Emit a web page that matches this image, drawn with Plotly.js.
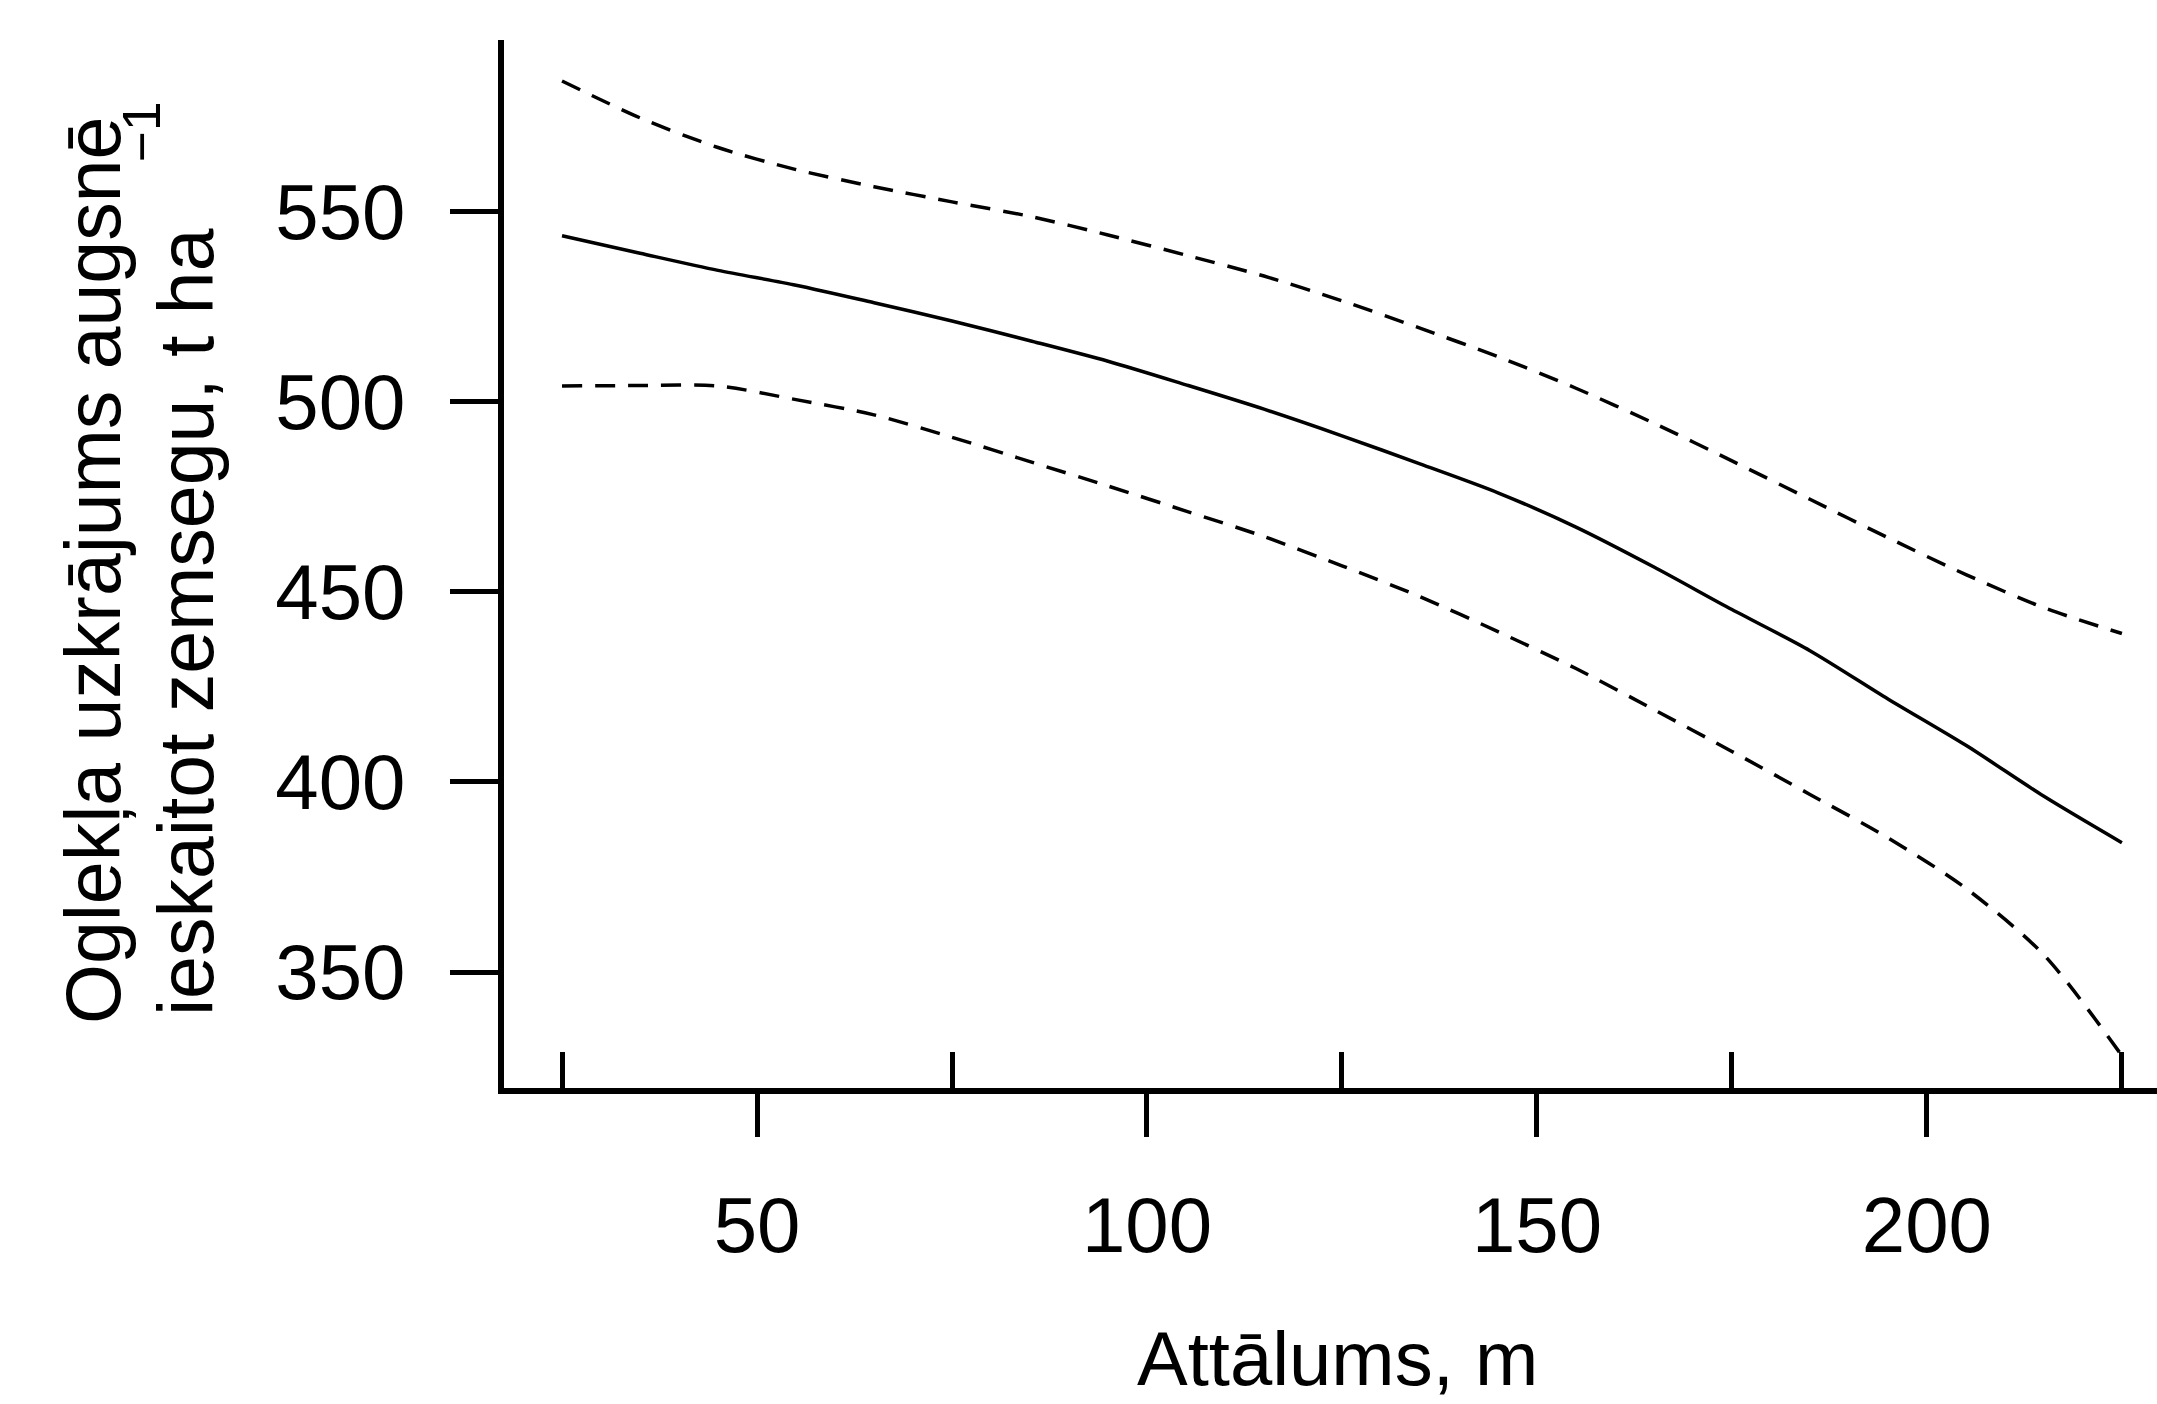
<!DOCTYPE html>
<html>
<head>
<meta charset="utf-8">
<script src="https://cdn.plot.ly/plotly-3.0.1.min.js"></script>
<style>html,body{margin:0;padding:0;background:#fff;}#chart{width:2157px;height:1404px;}</style>
</head>
<body>
<div id="chart"></div>
<script>
// Distance (m)
const distance = [25, 35, 45, 55, 65, 75, 85, 95, 105, 115, 125, 135, 145, 155, 165, 175, 185, 195, 205, 215, 225];
// Fitted carbon stock (t/ha)
const fitted = [543.6, 539.0, 534.5, 530.6, 526.0, 521.2, 516.0, 510.6, 504.4, 498.0, 491.0, 483.6, 476.0, 467.0, 456.5, 445.3, 434.5, 421.8, 409.6, 396.2, 384.0];
// Upper confidence limit
const upper = [584.3, 574.6, 566.8, 561.0, 556.5, 552.5, 548.7, 543.8, 538.5, 533.0, 526.5, 519.3, 511.8, 503.5, 494.3, 484.4, 474.3, 464.2, 454.5, 445.8, 439.0];
// Lower confidence limit
const lower = [504.1, 504.2, 504.1, 500.5, 496.5, 490.6, 484.2, 477.8, 471.2, 464.5, 456.8, 448.7, 439.5, 429.8, 419.0, 408.0, 396.7, 385.3, 372.0, 354.5, 328.0];

const xTickVals = [50, 100, 150, 200];
const xMinorVals = [25, 75, 125, 175, 225];
const yTickVals = [350, 400, 450, 500, 550];

const yTitle1 = "Oglekļa uzkrājums augsnē";
const yTitle2 = "ieskaitot zemsegu, t ha";
const yTitleSup = "−1";
const xTitle = "Attālums, m";

const font = "Liberation Sans, Arial, sans-serif";

const traces = [
  {x: distance, y: upper, mode: 'lines', line: {color: '#000', width: 3.5, dash: '20px,13px', shape: 'spline', smoothing: 0.8}, name: 'upper', showlegend: false, hoverinfo: 'skip'},
  {x: distance, y: fitted, mode: 'lines', line: {color: '#000', width: 3.5, shape: 'spline', smoothing: 0.8}, name: 'fit', showlegend: false},
  {x: distance, y: lower, mode: 'lines', line: {color: '#000', width: 3.5, dash: '20px,13px', shape: 'spline', smoothing: 0.8}, name: 'lower', showlegend: false, hoverinfo: 'skip'}
];

const W = 2157 - 504, H = 1088 - 40;
const px = v => (v - 504) / W;
const py = v => (1088 - v) / H;

const layout = {
  width: 2157, height: 1404,
  margin: {l: 504, r: 0, t: 40, b: 316, pad: 0},
  paper_bgcolor: '#fff', plot_bgcolor: '#fff',
  font: {family: font, color: '#000', size: 78},
  showlegend: false,
  xaxis: {
    range: [17.56, 229.5], showgrid: false, zeroline: false,
    showline: true, linecolor: '#000', linewidth: 6,
    tickmode: 'array', tickvals: xTickVals, ticktext: xTickVals.map(String),
    ticks: 'outside', ticklen: 43, tickwidth: 5, tickcolor: '#000',
    tickfont: {family: font, size: 78, color: '#000'},
    ticklabelstandoff: 21,
    minor: {tickmode: 'array', tickvals: xMinorVals, ticks: 'inside', ticklen: 36, tickwidth: 5, tickcolor: '#000', showgrid: false},
    title: {text: ''}
  },
  yaxis: {
    range: [319.5, 595.07], showgrid: false, zeroline: false,
    showline: true, linecolor: '#000', linewidth: 6,
    tickmode: 'array', tickvals: yTickVals, ticktext: yTickVals.map(String),
    ticks: 'outside', ticklen: 48, tickwidth: 5, tickcolor: '#000',
    tickfont: {family: font, size: 78, color: '#000'},
    ticklabelstandoff: 29,
    title: {text: ''}
  },
  annotations: [
    {text: xTitle, xref: 'paper', yref: 'paper', x: px(1337), y: py(1358), xanchor: 'center', yanchor: 'middle', showarrow: false, font: {family: font, size: 76, color: '#000'}},
    {text: yTitle1, xref: 'paper', yref: 'paper', x: px(93), y: py(571), xanchor: 'center', yanchor: 'middle', textangle: -90, showarrow: false, font: {family: font, size: 77, color: '#000'}},
    {text: yTitle2, xref: 'paper', yref: 'paper', x: px(186), y: py(622), xanchor: 'center', yanchor: 'middle', textangle: -90, showarrow: false, font: {family: font, size: 77, color: '#000'}},
    {text: yTitleSup, xref: 'paper', yref: 'paper', x: px(142), y: py(132), xanchor: 'center', yanchor: 'middle', textangle: -90, showarrow: false, font: {family: font, size: 53, color: '#000'}}
  ]
};

Plotly.newPlot('chart', traces, layout, {staticPlot: true, displayModeBar: false});
</script>
</body>
</html>
